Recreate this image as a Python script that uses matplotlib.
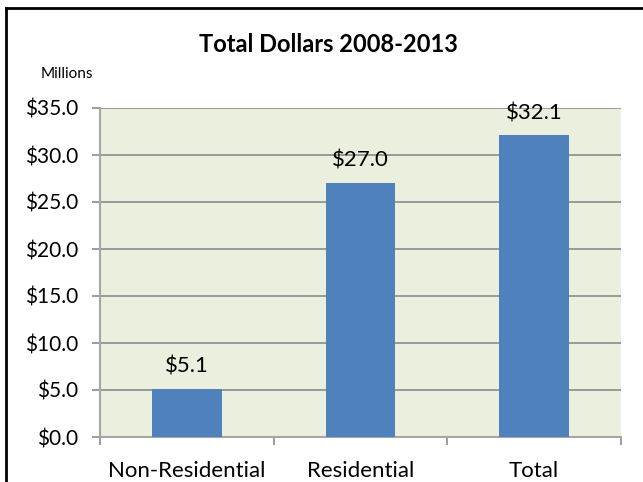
import matplotlib
matplotlib.use("Agg")
import matplotlib.pyplot as plt
from matplotlib.lines import Line2D

categories = ["Non-Residential", "Residential", "Total"]
values = [5.1, 27.0, 32.1]
yticks = [0, 5, 10, 15, 20, 25, 30, 35]

plt.rcParams['font.family'] = ['Lato', 'DejaVu Sans']

fig = plt.figure(figsize=(6.43, 4.82), dpi=100)
ax = fig.add_axes([100/643, 1-437/482, (621-100)/643, (437-108)/482])
ax.set_facecolor("#EBEFDD")

x = list(range(len(categories)))
bars = ax.bar(x, values, width=0.4, color="#4F81BD", zorder=3)
ax.set_xlim(-0.5, len(categories)-0.5)
ax.set_ylim(0, 35)
ax.set_yticks(yticks)
ax.set_yticklabels([f"${v:.1f}" for v in yticks], fontsize=15)
ax.yaxis.grid(True, color="#8C8C8C", linewidth=1.2, zorder=1)
ax.set_axisbelow(True)

ax.set_xticks([i - 0.5 for i in range(len(categories)+1)])
ax.set_xticklabels([])
ax.set_xticks(x, minor=True)
ax.set_xticklabels(categories, minor=True, fontsize=16)
ax.tick_params(axis='x', which='minor', length=0, pad=17)
ax.tick_params(axis='x', which='major', length=6, color="#8C8C8C", width=1.2)
ax.tick_params(axis='y', length=6, color="#8C8C8C", width=1.2, pad=10)

for s in ["top", "right"]:
    ax.spines[s].set_visible(False)
for s in ["left", "bottom"]:
    ax.spines[s].set_color("#A6A6A6")
    ax.spines[s].set_linewidth(1.5)

for xi, v in zip(x, values):
    ax.annotate(f"${v:.1f}", (xi, v), xytext=(0, 16), textcoords="offset points",
                ha="center", va="center", fontsize=16)

fig.text(328/643, 1-44/482, "Total Dollars 2008-2013", ha="center", va="center",
         fontsize=17, fontweight="bold")
fig.text(41/643, 1-74/482, "Millions", ha="left", va="center", fontsize=11)

fig.add_artist(Line2D([6/643, 6/643], [0, 1-8/482], color="black", lw=2, transform=fig.transFigure))
fig.add_artist(Line2D([6/643, 1], [1-8/482, 1-8/482], color="black", lw=2, transform=fig.transFigure))

fig.savefig("out.png", dpi=100)
